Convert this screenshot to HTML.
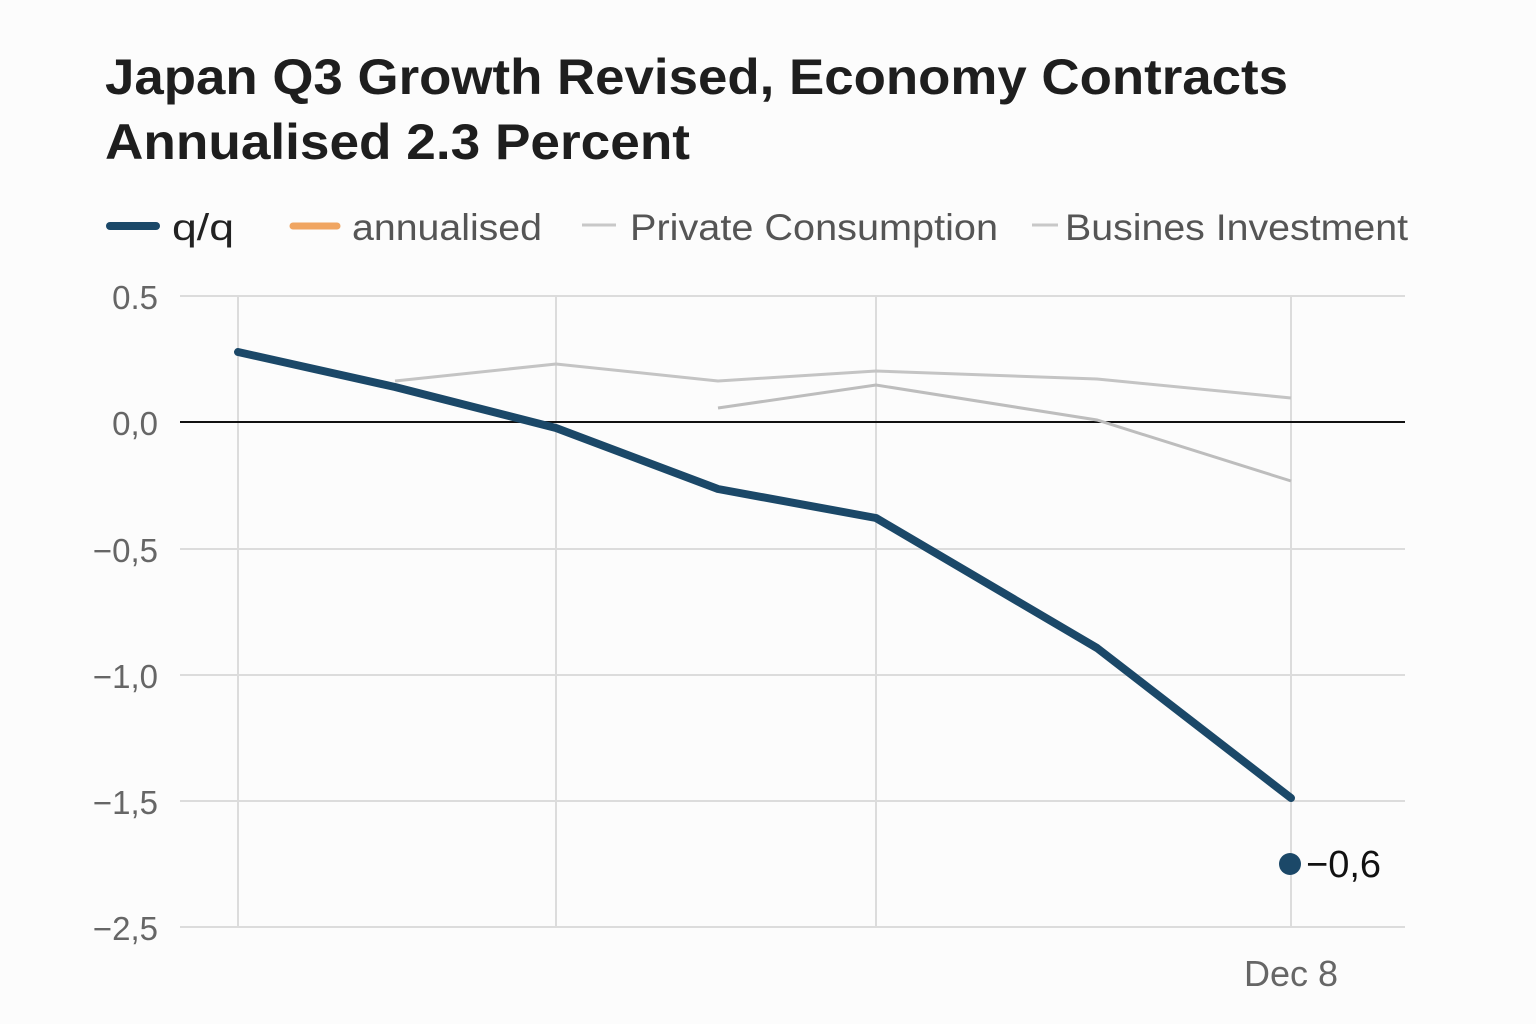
<!DOCTYPE html>
<html><head><meta charset="utf-8"><style>
html,body{margin:0;padding:0;background:#fcfcfc;}
svg{display:block;font-family:"Liberation Sans",sans-serif;}
</style></head><body>
<svg width="1536" height="1024" viewBox="0 0 1536 1024" xmlns="http://www.w3.org/2000/svg">
<rect width="1536" height="1024" fill="#fcfcfc"/>
<text x="105" y="94" font-size="50" font-weight="bold" fill="#1e1e1e" textLength="1183" lengthAdjust="spacingAndGlyphs">Japan Q3 Growth Revised, Economy Contracts</text>
<text x="105" y="159" font-size="50" font-weight="bold" fill="#1e1e1e" textLength="585" lengthAdjust="spacingAndGlyphs">Annualised 2.3 Percent</text>
<!-- legend -->
<line x1="110" y1="226" x2="156" y2="226" stroke="#1b4868" stroke-width="8" stroke-linecap="round"/>
<text x="172" y="240" font-size="37" fill="#222" textLength="62" lengthAdjust="spacingAndGlyphs">q/q</text>
<line x1="293" y1="226" x2="337" y2="226" stroke="#f0a561" stroke-width="7" stroke-linecap="round"/>
<text x="352" y="240" font-size="37" fill="#555" textLength="190" lengthAdjust="spacingAndGlyphs">annualised</text>
<line x1="582" y1="225" x2="616" y2="225" stroke="#c8c8c8" stroke-width="3"/>
<text x="630" y="240" font-size="37" fill="#555" textLength="368" lengthAdjust="spacingAndGlyphs">Private Consumption</text>
<line x1="1032" y1="225" x2="1058" y2="225" stroke="#c8c8c8" stroke-width="3"/>
<text x="1065" y="240" font-size="37" fill="#555" textLength="343" lengthAdjust="spacingAndGlyphs">Busines Investment</text>
<!-- grid -->
<g stroke="#dcdcdc" stroke-width="2">
<line x1="180" y1="296" x2="1405" y2="296"/>
<line x1="180" y1="549" x2="1405" y2="549"/>
<line x1="180" y1="675" x2="1405" y2="675"/>
<line x1="180" y1="801" x2="1405" y2="801"/>
<line x1="180" y1="927" x2="1405" y2="927"/>
<line x1="238" y1="296" x2="238" y2="927"/>
<line x1="556" y1="296" x2="556" y2="927"/>
<line x1="876" y1="296" x2="876" y2="927"/>
<line x1="1291" y1="296" x2="1291" y2="927"/>
</g>
<line x1="180" y1="422" x2="1405" y2="422" stroke="#111" stroke-width="2"/>
<g font-size="33" fill="#666" text-anchor="end">
<text x="158" y="309">0.5</text>
<text x="158" y="435">0,0</text>
<text x="158" y="562">−0,5</text>
<text x="158" y="688">−1,0</text>
<text x="158" y="814">−1,5</text>
<text x="158" y="940">−2,5</text>
</g>
<text x="1291" y="986" font-size="36" fill="#666" text-anchor="middle">Dec 8</text>
<!-- series -->
<polyline points="395,381 556,364 718,381 876,371 1097,379 1291,398" fill="none" stroke="#c4c4c4" stroke-width="3"/>
<polyline points="718,408 876,385 1097,420 1291,481" fill="none" stroke="#bdbdbd" stroke-width="3"/>
<polyline points="238,352 395,387 556,428 718,489 876,518 1097,648 1291,798" fill="none" stroke="#1b4868" stroke-width="8" stroke-linecap="round" stroke-linejoin="round"/>
<circle cx="1290" cy="864" r="11" fill="#1b4868"/>
<text x="1306" y="877" font-size="38" fill="#111">−0,6</text>
</svg>
</body></html>
